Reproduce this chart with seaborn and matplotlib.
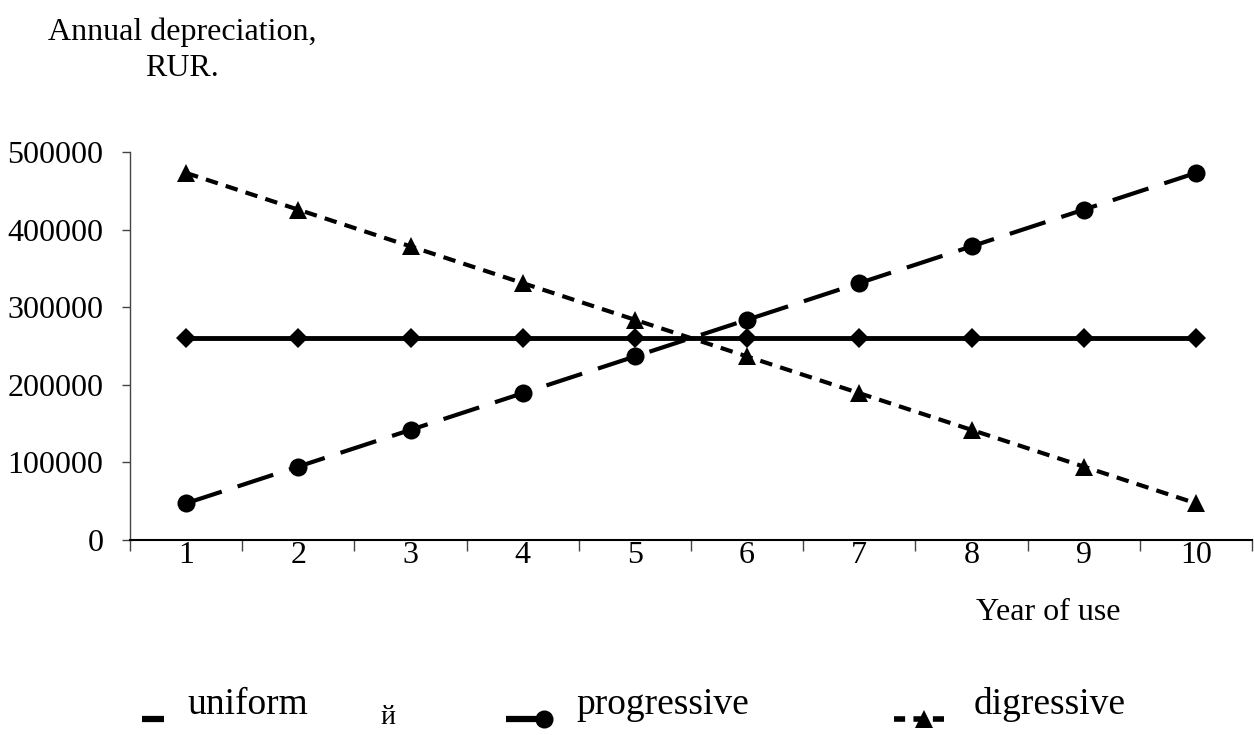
"""
Annual depreciation by year of use: uniform, progressive and digressive methods
"""

import matplotlib
matplotlib.use('Agg')
import matplotlib.pyplot as plt
from matplotlib.lines import Line2D
from matplotlib.ticker import FuncFormatter, FixedLocator
import pandas as pd
import seaborn as sns

# Datos
years = [1, 2, 3, 4, 5, 6, 7, 8, 9, 10]
uniform = [260150] * 10
progressive = [47300, 94600, 141900, 189200, 236500, 283800, 331100, 378400, 425700, 473000]
digressive = [473000, 425700, 378400, 331100, 283800, 236500, 189200, 141900, 94600, 47300]
y_ticks = [0, 100000, 200000, 300000, 400000, 500000]

sns.set_style('white')
plt.rcParams['font.family'] = ['Liberation Serif', 'DejaVu Serif']
plt.rcParams['text.color'] = 'black'
plt.rcParams['xtick.labelcolor'] = 'black'
plt.rcParams['ytick.labelcolor'] = 'black'

df = pd.DataFrame({'year': years, 'uniform': uniform,
                   'progressive': progressive, 'digressive': digressive})

fig = plt.figure(figsize=(12.54, 7.35), dpi=100)
ax = fig.add_axes([130 / 1254, 1 - 540 / 735, 1122 / 1254, 388 / 735])

# Series
sns.lineplot(data=df, x='year', y='uniform', ax=ax, color='black', lw=3.5,
             marker='D', markersize=10, markeredgewidth=0)
sns.lineplot(data=df, x='year', y='progressive', ax=ax, color='black', lw=3.0,
             linestyle=(0, (9, 4)), marker='o', markersize=13, markeredgewidth=0)
sns.lineplot(data=df, x='year', y='digressive', ax=ax, color='black', lw=3.0,
             linestyle=(0, (3, 2)), marker='^', markersize=13, markeredgewidth=0)

ax.set_xlim(0.5, 10.5)
ax.set_ylim(0, 500000)
ax.set_xlabel('')
ax.set_ylabel('')

# Ejes estilo Excel: marcas entre categorías
ax.xaxis.set_major_locator(FixedLocator([x + 0.5 for x in [0] + years]))
ax.xaxis.set_minor_locator(FixedLocator(years))
ax.xaxis.set_major_formatter(FuncFormatter(lambda v, p: ''))
ax.xaxis.set_minor_formatter(FuncFormatter(lambda v, p: str(int(round(v)))))
ax.tick_params(axis='x', which='major', length=8, width=1, color='#444444',
               direction='out', bottom=True)
ax.tick_params(axis='x', which='minor', length=0, pad=1, labelsize=23, bottom=True)

ax.set_yticks(y_ticks)
ax.yaxis.set_major_formatter(FuncFormatter(lambda v, p: f'{int(v)}'))
ax.tick_params(axis='y', length=6, width=1, color='#444444', direction='out',
               pad=13, labelsize=23, left=True)

sns.despine(ax=ax)
ax.spines['left'].set_color('#444444')
ax.spines['left'].set_linewidth(1)
ax.spines['bottom'].set_color('black')
ax.spines['bottom'].set_linewidth(1.5)

# Textos
fig.text(182 / 1254, 1 - 50 / 735, 'Annual depreciation,\nRUR.', ha='center',
         va='center', fontsize=23, linespacing=1.3)
fig.text(1048 / 1254, 1 - 612 / 735, 'Year of use', ha='center', va='center',
         fontsize=23)

# Leyenda manual en la parte inferior
def fx(px):
    return px / 1254

def fy(py):
    return 1 - py / 735

handle_y = fy(719)
fig.add_artist(Line2D([fx(142), fx(164)], [handle_y, handle_y], color='black',
                      lw=4.5, solid_capstyle='butt', transform=fig.transFigure))
fig.add_artist(Line2D([fx(506), fx(544)], [handle_y, handle_y], color='black',
                      lw=4.5, solid_capstyle='butt', transform=fig.transFigure))
fig.add_artist(Line2D([fx(544)], [handle_y], color='black', marker='o',
                      markersize=13, markeredgewidth=0, transform=fig.transFigure))
fig.add_artist(Line2D([fx(894), fx(952)], [handle_y, handle_y], color='black',
                      lw=4, linestyle=(0, (2, 1.5)), transform=fig.transFigure))
fig.add_artist(Line2D([fx(924)], [handle_y], color='black', marker='^',
                      markersize=13, markeredgewidth=0, transform=fig.transFigure))

fig.text(fx(187), fy(705), 'uniform', ha='left', va='center', fontsize=27)
fig.text(fx(576), fy(705), 'progressive', ha='left', va='center', fontsize=27)
fig.text(fx(974), fy(705), 'digressive', ha='left', va='center', fontsize=27)
fig.text(fx(388), fy(718), 'й', ha='center', va='center', fontsize=20)

fig.savefig('out.png', dpi=100)
plt.close(fig)
